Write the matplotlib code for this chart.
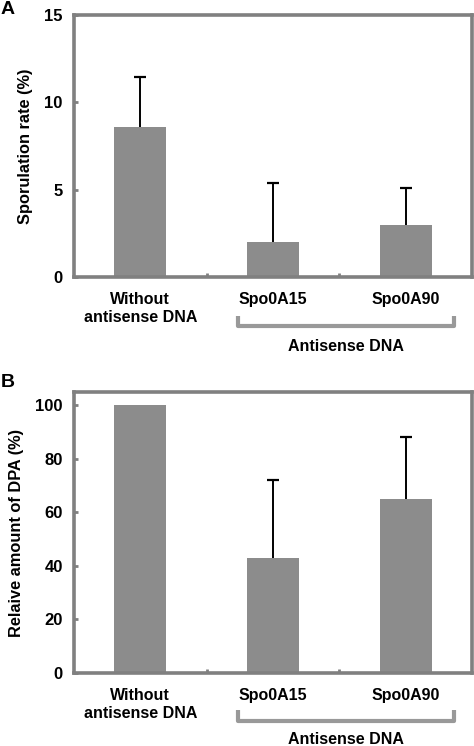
import matplotlib.pyplot as plt
import numpy as np

plt.rcParams['font.family'] = ['Liberation Sans', 'DejaVu Sans']
plt.rcParams['font.weight'] = 'bold'

categories = ['Without\nantisense DNA', 'Spo0A15', 'Spo0A90']
group_label = 'Antisense DNA'

spor_rate = [8.6, 2.0, 3.0]
spor_err = [2.85, 3.4, 2.1]

dpa_amount = [100, 43, 65]
dpa_err = [0, 29, 23]

bar_color = '#8c8c8c'
spine_color = '#808080'


def draw_panel(ax, values, errs, ylim, yticks, ylabel, br_y, br_top, txt_y):
    x = np.arange(len(categories))
    ax.bar(x, values, width=0.39, color=bar_color, zorder=2)
    for xi, v, e in zip(x, values, errs):
        if e > 0:
            # upper error only: stem plus a single cap
            ax.vlines(xi, v, v + e, color='black', lw=1.4, zorder=3)
            ax.plot(xi, v + e, marker='_', markersize=9, mew=1.6, color='black', zorder=3)
    ax.set_xlim(-0.5, len(categories) - 0.5)
    ax.set_ylim(*ylim)
    ax.set_yticks(yticks)
    ax.set_yticklabels([str(t) for t in yticks], fontsize=12, fontweight='bold')
    ax.set_xticks(x)
    ax.set_xticklabels(categories, fontsize=11.5, fontweight='bold', linespacing=1.25)
    ax.set_xticks([0.5, 1.5], minor=True)
    ax.tick_params(axis='x', which='major', length=0, pad=11)
    ax.tick_params(axis='x', which='minor', direction='in', length=3, width=2, color=spine_color)
    ax.tick_params(axis='y', direction='in', length=3, width=2, color=spine_color, pad=8)
    for s in ax.spines.values():
        s.set_color(spine_color)
        s.set_linewidth(2.6)
    ax.set_ylabel(ylabel, fontsize=11.8, fontweight='bold', labelpad=8)

    # bracket under the antisense groups
    tr = ax.get_xaxis_transform()
    x0, x1 = 0.735, 2.36
    ax.plot([x0, x0, x1, x1], [br_top, br_y, br_y, br_top], transform=tr,
            color='#999999', lw=3, clip_on=False, solid_capstyle='butt')
    ax.text((x0 + x1) / 2, txt_y, group_label, transform=tr, ha='center', va='center',
            fontsize=11.5, fontweight='bold')


fig = plt.figure(figsize=(4.74, 7.46), dpi=100)
axA = fig.add_axes([0.156, 0.6287, 0.840, 0.3512])
axB = fig.add_axes([0.156, 0.0979, 0.840, 0.3767])

draw_panel(axA, spor_rate, spor_err, (0, 15), [0, 5, 10, 15],
           'Sporulation rate (%)', -0.187, -0.149, -0.265)
draw_panel(axB, dpa_amount, dpa_err, (0, 105), [0, 20, 40, 60, 80, 100],
           'Relaive amount of DPA (%)', -0.171, -0.132, -0.238)

fig.text(0.002, 0.987, 'A', fontsize=14, fontweight='bold', va='center', ha='left')
fig.text(0.002, 0.487, 'B', fontsize=14, fontweight='bold', va='center', ha='left')

fig.savefig('out.png', dpi=100)
